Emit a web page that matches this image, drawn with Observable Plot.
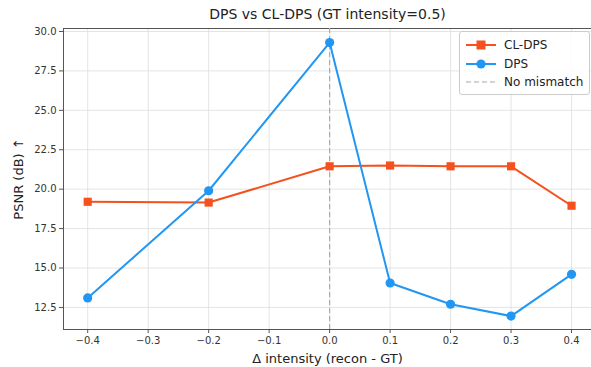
<!DOCTYPE html>
<html><head><meta charset="utf-8">
<script src="https://cdn.jsdelivr.net/npm/d3@7"></script>
<script src="https://cdn.jsdelivr.net/npm/@observablehq/plot@0.6"></script>
<style>
body{margin:0;background:#fff;font-family:"DejaVu Sans",sans-serif;}
#wrap{position:relative;width:591px;height:367px;}
#legend{position:absolute;left:459px;top:31px;width:129px;height:62px;border:1px solid #ccc;border-radius:3px;background:rgba(255,255,255,0.85);font-size:12px;color:#222;}
#legend .row{position:absolute;left:6px;height:18px;display:flex;align-items:center;}
#legend svg{margin-right:8px;}
</style></head>
<body><div id="wrap"><div id="chart"></div><div id="legend"></div></div>
<script>
const deltas = [-0.4, -0.2, 0.0, 0.1, 0.2, 0.3, 0.4];
const clDps = [19.2, 19.15, 21.45, 21.5, 21.45, 21.45, 18.95];
const dps = [13.1, 19.9, 29.3, 14.05, 12.7, 11.95, 14.6];
const xTicks = [-0.4, -0.3, -0.2, -0.1, 0.0, 0.1, 0.2, 0.3, 0.4];
const yTicks = [12.5, 15.0, 17.5, 20.0, 22.5, 25.0, 27.5, 30.0];
const seriesNames = ["CL-DPS", "DPS", "No mismatch"];
const colors = ["#f4511e", "#2196f3", "#aaaaaa"];
const title = "DPS vs CL-DPS (GT intensity=0.5)";
const xLabel = "Δ intensity (recon - GT)";
const yLabel = "PSNR (dB) ↑";

const clData = deltas.map((d, i) => ({x: d, y: clDps[i]}));
const dpsData = deltas.map((d, i) => ({x: d, y: dps[i]}));
const xDom = [-0.44, 0.433], yDom = [11.1, 30.19];

const plot = Plot.plot({
  width: 591, height: 367,
  marginLeft: 63, marginRight: 0, marginTop: 28, marginBottom: 38,
  style: {fontFamily: "DejaVu Sans, sans-serif", fontSize: "10px", color: "#333"},
  x: {domain: xDom, ticks: xTicks},
  y: {domain: yDom, ticks: yTicks},
  marks: [
    Plot.gridX(xTicks, {stroke: "#ddd", strokeOpacity: 1, strokeWidth: 0.8}),
    Plot.gridY(yTicks, {stroke: "#ddd", strokeOpacity: 1, strokeWidth: 0.8}),
    Plot.ruleX([xDom[0]], {stroke: "#555", strokeWidth: 1}),
    Plot.ruleY([yDom[0], yDom[1]], {stroke: "#555", strokeWidth: 1}),
    Plot.axisX(xTicks, {tickFormat: d => d.toFixed(1).replace("-", "−"), tickSize: 4, tickPadding: 3, fontSize: 10, label: xLabel, labelAnchor: "center", labelArrow: "none", labelOffset: 33, stroke: "#555"}),
    Plot.axisY(yTicks, {tickFormat: d => d.toFixed(1), tickSize: 4, tickPadding: 3, fontSize: 10, label: yLabel, labelAnchor: "center", labelArrow: "none", labelOffset: 50, stroke: "#555"}),
    Plot.ruleX([0], {stroke: colors[2], strokeDasharray: "5,3", strokeWidth: 1.2}),
    Plot.line(clData, {x: "x", y: "y", stroke: colors[0], strokeWidth: 2}),
    Plot.dot(clData, {x: "x", y: "y", symbol: "square", r: 4.6, fill: colors[0]}),
    Plot.line(dpsData, {x: "x", y: "y", stroke: colors[1], strokeWidth: 2}),
    Plot.dot(dpsData, {x: "x", y: "y", r: 4.6, fill: colors[1]}),
    Plot.text([title], {frameAnchor: "top", lineAnchor: "middle", dy: -14, fontSize: 14, fill: "#222"})
  ]
});
plot.querySelectorAll("g[aria-label='x-axis label'] text, g[aria-label='y-axis label'] text").forEach(t => { t.setAttribute("font-size", "13"); t.setAttribute("fill", "#222"); });
document.getElementById("chart").appendChild(plot);

const legend = document.getElementById("legend");
seriesNames.forEach((name, i) => {
  const row = document.createElement("div");
  row.className = "row";
  row.style.top = (4 + i * 18.5) + "px";
  let icon;
  if (i === 0) icon = `<svg width="30" height="12"><line x1="0" y1="6" x2="30" y2="6" stroke="${colors[0]}" stroke-width="2"/><rect x="10.5" y="1.5" width="9" height="9" fill="${colors[0]}"/></svg>`;
  else if (i === 1) icon = `<svg width="30" height="12"><line x1="0" y1="6" x2="30" y2="6" stroke="${colors[1]}" stroke-width="2"/><circle cx="15" cy="6" r="4.6" fill="${colors[1]}"/></svg>`;
  else icon = `<svg width="30" height="12"><line x1="0" y1="6" x2="30" y2="6" stroke="${colors[2]}" stroke-width="1.2" stroke-dasharray="5,3"/></svg>`;
  row.innerHTML = icon + `<span>${name}</span>`;
  legend.appendChild(row);
});
</script></body></html>
